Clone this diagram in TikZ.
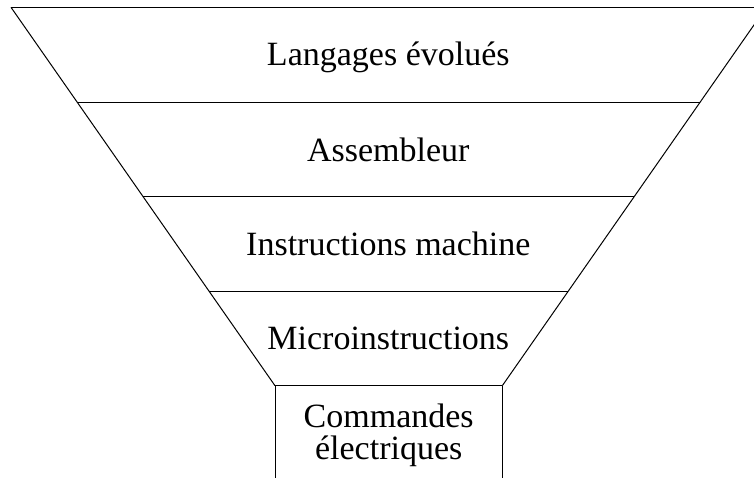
\documentclass[tikz,border=0pt]{standalone}
\usepackage{fontspec}
\setmainfont{Liberation Serif}
\usetikzlibrary{calc}
\begin{document}
\begin{tikzpicture}[x=1pt,y=-1pt,
  edge/.style={draw=black,line width=1pt},
  label/.style={anchor=base,inner sep=0pt,font=\fontsize{34}{40}\selectfont}]
\useasboundingbox (0,0) rectangle (754,477);
\clip (0,0) rectangle (754,477);
\coordinate (TL) at (11,7.3);
\coordinate (TR) at (766.3,7.3);
\coordinate (BL) at (275,385.7);
\coordinate (BR) at (502.3,385.7);
\coordinate (FL) at (275,480);
\coordinate (FR) at (502.3,480);
\coordinate (L1) at ($(TL)!0.251!(BL)$);
\coordinate (R1) at ($(TR)!0.251!(BR)$);
\coordinate (L2) at ($(TL)!0.501!(BL)$);
\coordinate (R2) at ($(TR)!0.501!(BR)$);
\coordinate (L3) at ($(TL)!0.7505!(BL)$);
\coordinate (R3) at ($(TR)!0.7505!(BR)$);
\draw[edge] (TL) -- (TR);
\draw[edge] (TL) -- (BL);
\draw[edge] (TR) -- (BR);
\draw[edge] (L1) -- (R1);
\draw[edge] (L2) -- (R2);
\draw[edge] (L3) -- (R3);
\draw[edge] (BL) -- (BR);
\draw[edge] (BL) -- (FL);
\draw[edge] (BR) -- (FR);
\node[label] (t1) at (388.3,65.7) {Langages évolués};
\node[label] (t2) at (388.3,161) {Assembleur};
\node[label] (t3) at (388.3,255.7) {Instructions machine};
\node[label] (t4) at (388.3,349.8) {Microinstructions};
\node[label] (t5) at (388.7,427.5) {Commandes};
\node[label] (t6) at (388.7,459) {électriques};
\end{tikzpicture}
\end{document}
